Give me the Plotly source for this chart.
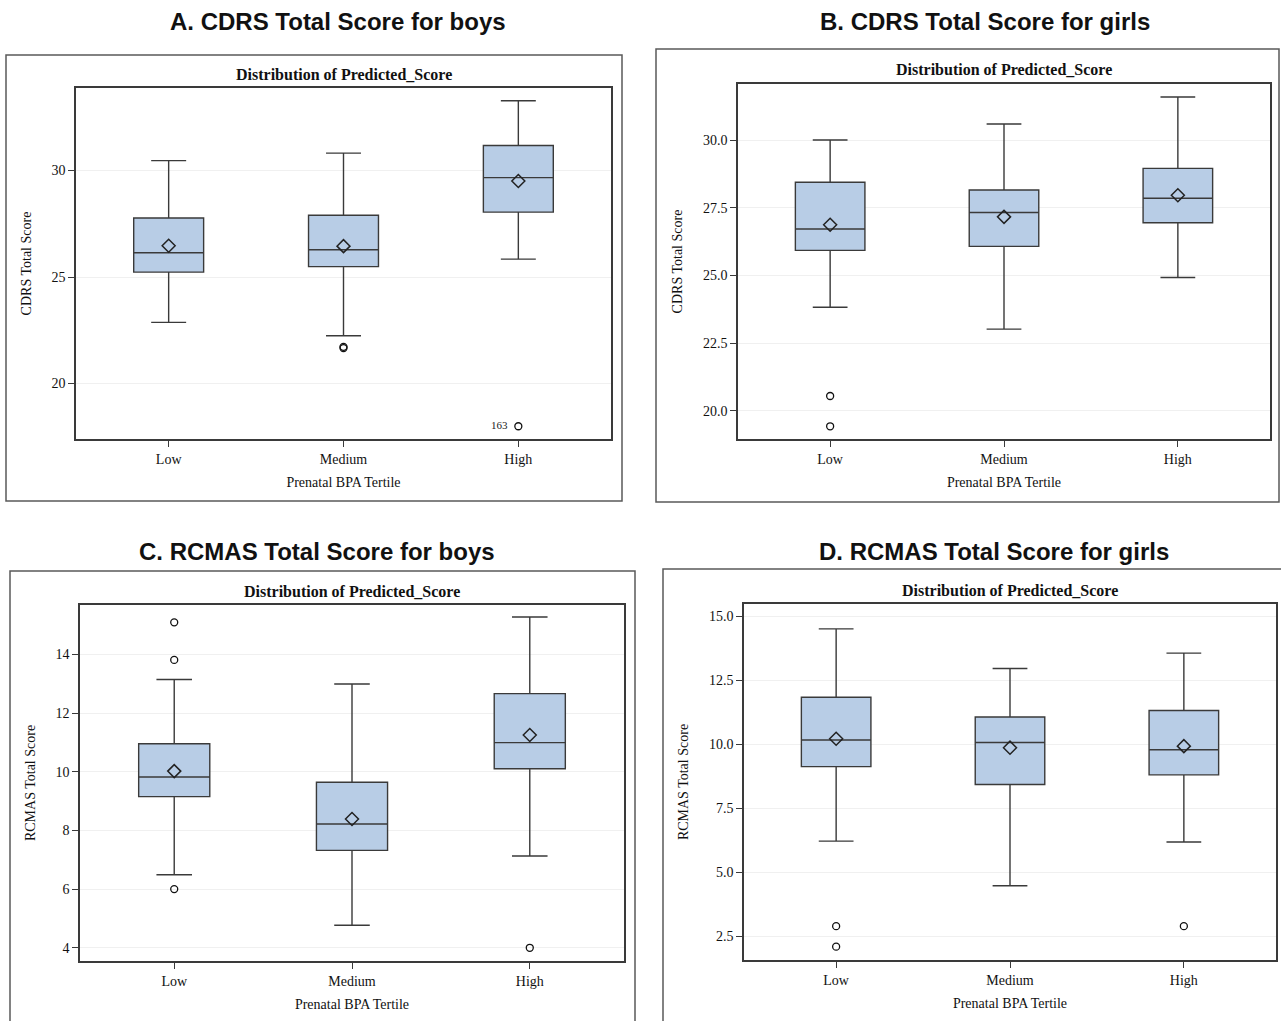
import plotly.graph_objects as go

W, H = 1281, 1021
categories = ["Low", "Medium", "High"]

# Panel A: CDRS boys
a_q1 = [25.23, 25.49, 28.05]
a_med = [26.14, 26.28, 29.67]
a_q3 = [27.77, 27.90, 31.18]
a_lo = [22.87, 22.24, 25.84]
a_hi = [30.47, 30.82, 33.28]
a_mean = [26.47, 26.45, 29.51]
a_out_x = ["Medium", "Medium", "High"]
a_out_y = [21.66, 21.72, 17.99]
a_out_lbl = ["", "", "163&nbsp;&nbsp;"]

# Panel B: CDRS girls
b_q1 = [25.93, 26.08, 26.95]
b_med = [26.72, 27.33, 27.86]
b_q3 = [28.45, 28.16, 28.96]
b_lo = [23.83, 23.02, 24.93]
b_hi = [30.01, 30.60, 31.60]
b_mean = [26.88, 27.17, 27.97]
b_out_x = ["Low", "Low"]
b_out_y = [20.55, 19.43]
b_out_lbl = ["", ""]

# Panel C: RCMAS boys
c_q1 = [9.15, 7.32, 10.10]
c_med = [9.82, 8.22, 10.99]
c_q3 = [10.95, 9.64, 12.66]
c_lo = [6.49, 4.77, 7.13]
c_hi = [13.14, 12.99, 15.27]
c_mean = [10.02, 8.39, 11.25]
c_out_x = ["Low", "Low", "Low", "High"]
c_out_y = [15.09, 13.81, 6.00, 4.00]
c_out_lbl = ["", "", "", ""]

# Panel D: RCMAS girls
d_q1 = [9.13, 8.43, 8.81]
d_med = [10.17, 10.07, 9.79]
d_q3 = [11.84, 11.07, 11.32]
d_lo = [6.22, 4.48, 6.19]
d_hi = [14.51, 12.96, 13.56]
d_mean = [10.22, 9.87, 9.93]
d_out_x = ["Low", "Low", "High"]
d_out_y = [2.90, 2.10, 2.90]
d_out_lbl = ["", "", ""]

titles = ["A. CDRS Total Score for boys", "B. CDRS Total Score for girls",
          "C. RCMAS Total Score for boys", "D. RCMAS Total Score for girls"]
ytitles = ["CDRS Total Score", "CDRS Total Score", "RCMAS Total Score", "RCMAS Total Score"]
yranges = [[17.39, 33.88], [18.96, 32.08], [3.55, 15.68], [1.58, 15.48]]
ytickvals = [[20, 25, 30], [20, 22.5, 25, 27.5, 30], [4, 6, 8, 10, 12, 14],
             [2.5, 5, 7.5, 10, 12.5, 15]]
ytickfmt = ["d", ".1f", "d", ".1f"]

# layout geometry in pixels (left, right, top, bottom)
plot_px = [(76, 611, 88, 439), (738, 1270, 84, 439), (80, 624, 605, 961), (744, 1276, 604, 960)]
frame_px = [(6, 622, 55, 501), (656, 1279, 49, 502), (10, 635, 571, 1040), (663, 1290, 569, 1040)]
title_px = [(338, 21), (985, 21), (317, 551), (994, 551)]

panels = [
    (a_q1, a_med, a_q3, a_lo, a_hi, a_mean, a_out_x, a_out_y, a_out_lbl),
    (b_q1, b_med, b_q3, b_lo, b_hi, b_mean, b_out_x, b_out_y, b_out_lbl),
    (c_q1, c_med, c_q3, c_lo, c_hi, c_mean, c_out_x, c_out_y, c_out_lbl),
    (d_q1, d_med, d_q3, d_lo, d_hi, d_mean, d_out_x, d_out_y, d_out_lbl),
]

SERIF = "Liberation Serif, Times New Roman, serif"
SANS = "Liberation Sans, Arial, sans-serif"
LINE = "#3a3a3a"
FILL = "#b8cde6"

fig = go.Figure()
shapes = []
annotations = []

for i, (q1, med, q3, lo, hi, mn, ox, oy, ol) in enumerate(panels):
    n = "" if i == 0 else str(i + 1)
    xa, ya = "x" + n, "y" + n
    fig.add_trace(go.Box(
        x=categories, q1=q1, median=med, q3=q3, lowerfence=lo, upperfence=hi,
        boxpoints=False, width=0.4, whiskerwidth=0.5,
        fillcolor=FILL, line=dict(color=LINE, width=1.4),
        xaxis=xa, yaxis=ya, showlegend=False, hoverinfo="skip"))
    fig.add_trace(go.Scatter(
        x=categories, y=mn, mode="markers",
        marker=dict(symbol="diamond-open", size=10, color="#222222", line=dict(width=1.5)),
        xaxis=xa, yaxis=ya, showlegend=False, hoverinfo="skip"))
    fig.add_trace(go.Scatter(
        x=ox, y=oy, mode="markers+text", text=ol, textposition="middle left",
        textfont=dict(family=SERIF, size=11, color="#222222"),
        marker=dict(symbol="circle-open", size=7, color="#111111", line=dict(width=1.3)),
        xaxis=xa, yaxis=ya, showlegend=False, hoverinfo="skip"))

    l, r, t, b = plot_px[i]
    fig.layout["xaxis" + n] = dict(
        domain=[l / W, r / W], anchor=ya, type="category",
        categoryorder="array", categoryarray=categories,
        range=[-0.53, 2.53], showline=True, linecolor=LINE, linewidth=1.5, mirror=True,
        ticks="outside", ticklen=6, tickcolor=LINE, showgrid=False, zeroline=False,
        tickfont=dict(family=SERIF, size=14, color="#111111"),
        title=dict(text="Prenatal BPA Tertile", font=dict(family=SERIF, size=14, color="#111111"),
                   standoff=12))
    fig.layout["yaxis" + n] = dict(
        domain=[1 - b / H, 1 - t / H], anchor=xa, range=yranges[i],
        tickvals=ytickvals[i], tickformat=ytickfmt[i],
        showline=True, linecolor=LINE, linewidth=1.5, mirror=True,
        ticks="outside", ticklen=6, tickcolor=LINE,
        showgrid=True, gridcolor="#f0f0f0", gridwidth=1, zeroline=False,
        tickfont=dict(family=SERIF, size=14, color="#111111"),
        title=dict(text=ytitles[i], font=dict(family=SERIF, size=14, color="#111111"),
                   standoff=17))

    fl, fr, ft, fb = frame_px[i]
    shapes.append(dict(type="rect", xref="paper", yref="paper",
                       x0=fl / W, x1=fr / W, y0=1 - fb / H, y1=1 - ft / H,
                       line=dict(color="#5a5a5a", width=1.5), layer="below"))
    annotations.append(dict(text="<b>Distribution of Predicted_Score</b>", xref="paper", yref="paper",
                            x=(l + r) / 2 / W, y=1 - (t - 14) / H, xanchor="center", yanchor="middle",
                            showarrow=False, font=dict(family=SERIF, size=16, color="#111111")))
    tx, ty = title_px[i]
    annotations.append(dict(text="<b>" + titles[i] + "</b>", xref="paper", yref="paper",
                            x=tx / W, y=1 - ty / H, xanchor="center", yanchor="middle",
                            showarrow=False, font=dict(family=SANS, size=24, color="#111111")))

fig.update_layout(width=W, height=H, margin=dict(l=0, r=0, t=0, b=0),
                  paper_bgcolor="white", plot_bgcolor="white",
                  shapes=shapes, annotations=annotations)
fig.write_html("out.html", config={"displayModeBar": False},
               post_script="document.body.style.margin='0';document.body.style.padding='0';"
                           "document.documentElement.style.overflow='hidden';")
